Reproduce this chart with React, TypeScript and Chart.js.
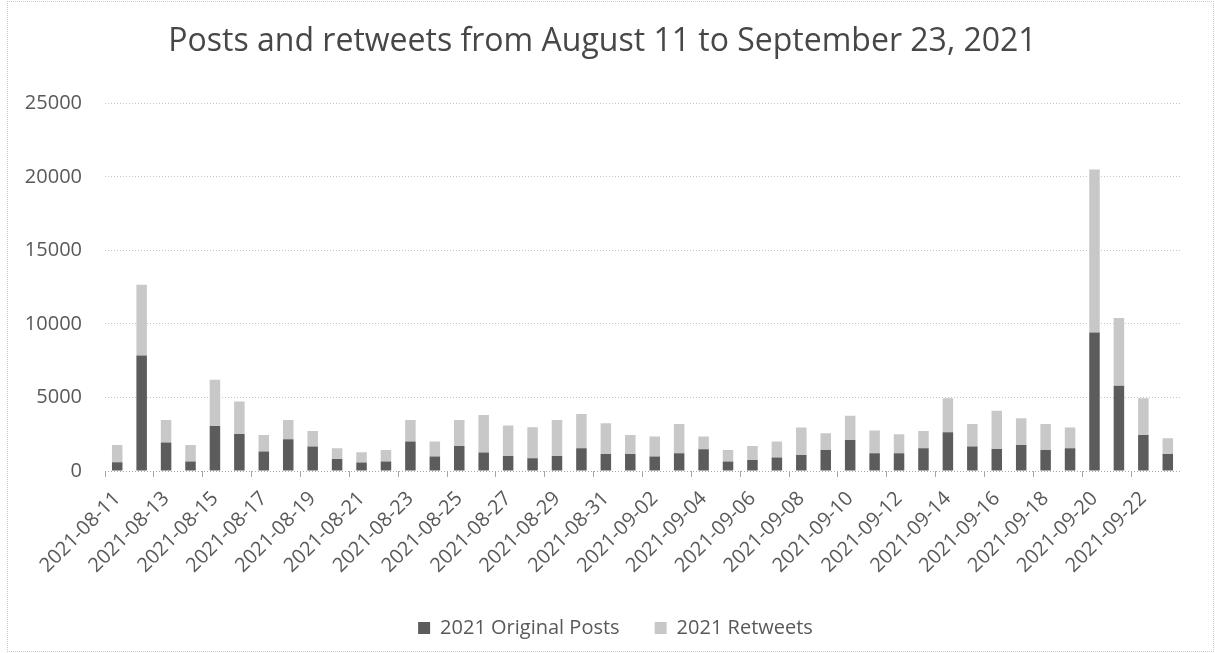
import React, { useEffect, useRef } from "react";
import { Chart, registerables } from "chart.js";

Chart.register(...registerables);

const dates = [
  "2021-08-11", "2021-08-12", "2021-08-13", "2021-08-14", "2021-08-15", "2021-08-16",
  "2021-08-17", "2021-08-18", "2021-08-19", "2021-08-20", "2021-08-21", "2021-08-22",
  "2021-08-23", "2021-08-24", "2021-08-25", "2021-08-26", "2021-08-27", "2021-08-28",
  "2021-08-29", "2021-08-30", "2021-08-31", "2021-09-01", "2021-09-02", "2021-09-03",
  "2021-09-04", "2021-09-05", "2021-09-06", "2021-09-07", "2021-09-08", "2021-09-09",
  "2021-09-10", "2021-09-11", "2021-09-12", "2021-09-13", "2021-09-14", "2021-09-15",
  "2021-09-16", "2021-09-17", "2021-09-18", "2021-09-19", "2021-09-20", "2021-09-21",
  "2021-09-22", "2021-09-23",
];

const originalPosts = [
  600, 7850, 1930, 640, 3060, 2520, 1320, 2160, 1660, 820, 570, 640,
  2000, 980, 1700, 1250, 1020, 860, 1020, 1540, 1160, 1160, 980, 1200,
  1480, 640, 750, 910, 1090, 1430, 2110, 1200, 1200, 1540, 2630, 1660,
  1500, 1770, 1430, 1540, 9420, 5790, 2450, 1160,
];

const retweets = [
  1170, 4820, 1540, 1130, 3140, 2200, 1130, 1310, 1060, 720, 700, 790,
  1470, 1020, 1770, 2560, 2070, 2110, 2450, 2340, 2090, 1290, 1360, 2000,
  860, 790, 950, 1090, 1860, 1140, 1640, 1550, 1300, 1180, 2320, 1540,
  2590, 1820, 1770, 1410, 11080, 4610, 2500, 1070,
];

const seriesNames = ["2021 Original Posts", "2021 Retweets"];
const titleText = "Posts and retweets from August 11 to September 23, 2021";
const yMax = 25000;
const yStep = 5000;

const FONT = "'Open Sans', 'DejaVu Sans', sans-serif";
const TEXT = "#595959";

// nudges the centred legend row slightly to the right
const legendShift = {
  id: "legendShift",
  afterLayout(chart: any) {
    if (chart.legend) {
      chart.legend.left += 13;
      chart.legend.right += 13;
    }
  },
};

export default function App() {
  const canvasRef = useRef<HTMLCanvasElement | null>(null);

  useEffect(() => {
    const canvas = canvasRef.current;
    if (!canvas) return;
    const chart = new Chart(canvas, {
      type: "bar",
      data: {
        labels: dates,
        datasets: [
          {
            label: seriesNames[0],
            data: originalPosts,
            backgroundColor: "#5c5c5c",
            barPercentage: 0.43,
            categoryPercentage: 1,
          },
          {
            label: seriesNames[1],
            data: retweets,
            backgroundColor: "#c8c8c8",
            barPercentage: 0.43,
            categoryPercentage: 1,
          },
        ],
      },
      plugins: [legendShift],
      options: {
        responsive: false,
        animation: false,
        devicePixelRatio: 1,
        layout: { padding: { left: 25, right: 35, top: 0, bottom: 5 } },
        plugins: {
          title: {
            display: true,
            text: titleText,
            color: "#474747",
            font: { family: FONT, size: 32, weight: "normal" },
            padding: { top: 23, bottom: 42 },
          },
          legend: {
            display: true,
            position: "bottom",
            labels: {
              color: TEXT,
              font: { family: FONT, size: 20 },
              boxWidth: 12,
              boxHeight: 12,
              padding: 35,
            },
          },
          tooltip: { enabled: false },
        },
        scales: {
          x: {
            stacked: true,
            offset: true,
            border: { display: false },
            grid: {
              offset: true,
              drawOnChartArea: false,
              drawTicks: true,
              tickLength: 6,
              tickColor: (ctx: any) => (ctx.index % 2 === 0 ? "#a6a6a6" : "rgba(0,0,0,0)"),
            },
            ticks: {
              autoSkip: false,
              minRotation: 45,
              maxRotation: 45,
              padding: 10,
              color: TEXT,
              font: { family: FONT, size: 20 },
              callback: (_v: any, i: number) => (i % 2 === 0 ? dates[i] : ""),
            },
            afterFit: (scale: any) => {
              // the slanted labels are allowed to run out past the plot's left edge
              scale.height = 112;
              scale.paddingLeft = 0;
              scale.paddingRight = 0;
              scale.getPadding = () => ({ left: 0, right: 0, top: 0, bottom: 0 });
            },
          },
          y: {
            stacked: true,
            min: 0,
            max: yMax,
            border: { display: false, dash: [1, 2] },
            grid: {
              drawTicks: false,
              color: (ctx: any) => (ctx.tick && ctx.tick.value === 0 ? "#a6a6a6" : "#c4c4c4"),
            },
            ticks: {
              stepSize: yStep,
              padding: 23,
              color: TEXT,
              font: { family: FONT, size: 20 },
              callback: (v: any) => String(v),
            },
            afterFit: (scale: any) => {
              scale.width = 80;
            },
          },
        },
      },
    } as any);
    return () => chart.destroy();
  }, []);

  return (
    <div style={{ position: "absolute", left: 0, top: 0, width: 1215, height: 653, background: "#fff" }}>
      <canvas ref={canvasRef} width={1215} height={653} style={{ display: "block" }} />
      <div
        style={{
          position: "absolute",
          left: 7,
          top: 1,
          width: 1205,
          height: 649,
          border: "1px dotted #c8c8c8",
          pointerEvents: "none",
        }}
      />
    </div>
  );
}
